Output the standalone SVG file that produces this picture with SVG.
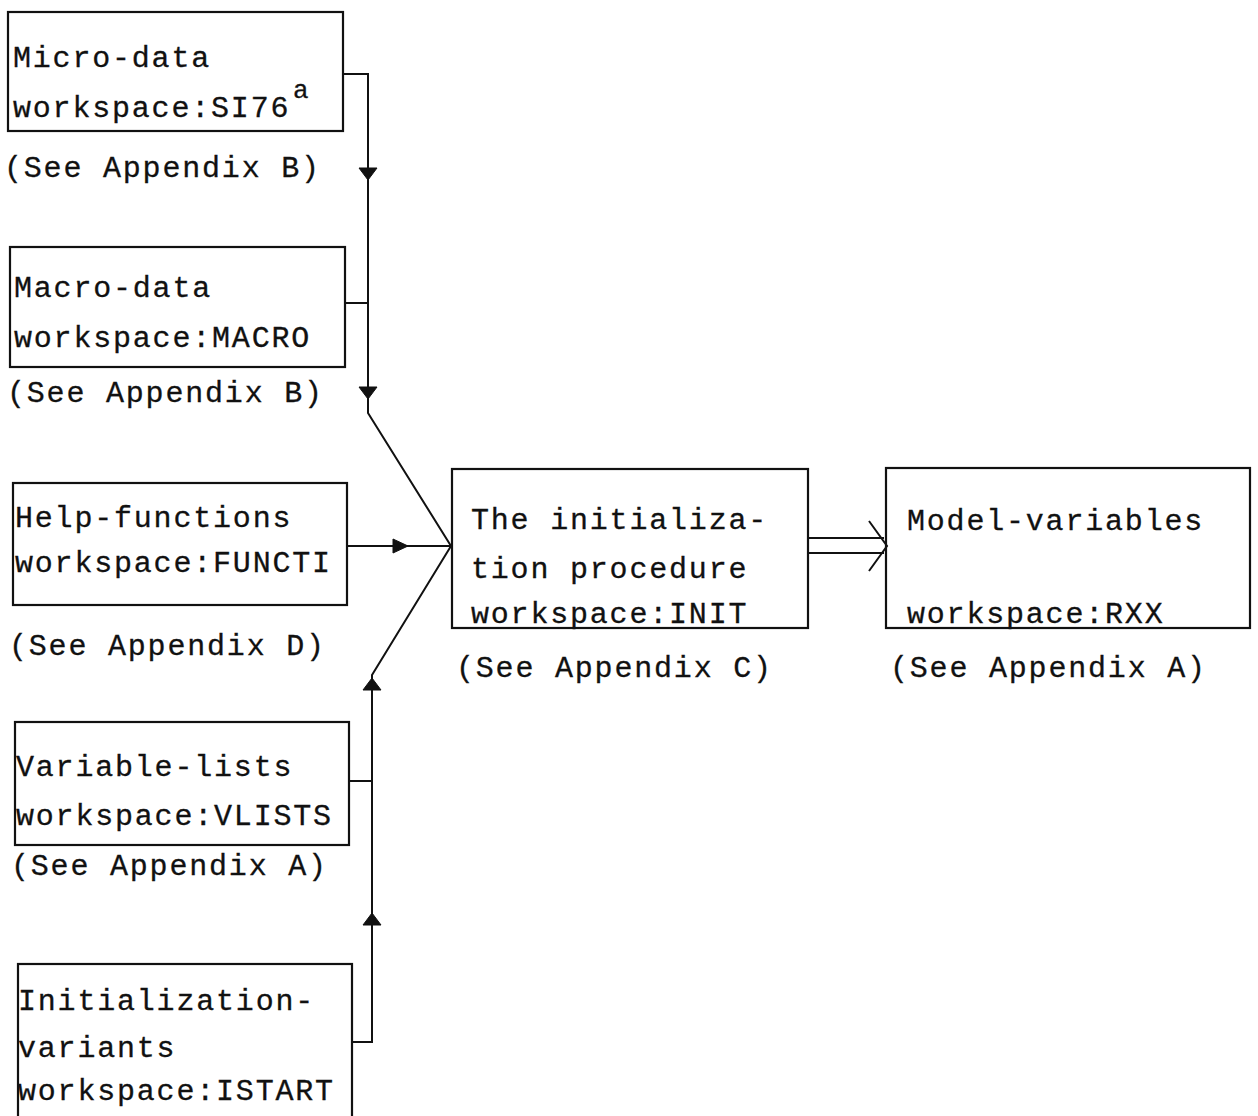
<svg xmlns="http://www.w3.org/2000/svg" xmlns:xlink="http://www.w3.org/1999/xlink" width="1258" height="1116" viewBox="0 0 1258 1116">
<style>
  .box { fill: none; stroke: #111; stroke-width: 2.2; }
  .t { font-family: "Liberation Mono", "Courier New", monospace; font-size: 30px; letter-spacing: 1.8px; fill: #111; stroke: #111; stroke-width: 0.3; }
  .sup { font-family: "Liberation Mono", "Courier New", monospace; font-size: 26px; fill: #111; stroke: #111; stroke-width: 0.3; }
  .ln { fill: none; stroke: #111; stroke-width: 2; stroke-linejoin: miter; }
  .ah { fill: #111; stroke: #111; stroke-width: 1; }
</style>
<defs>
  <path id="tdown" d="M-9,-12 L9,-12 L0,0 Z"/>
  <path id="tup" d="M-9,12 L9,12 L0,0 Z"/>
  <path id="tright" d="M-15,-7 L0,0 L-15,7 Z"/>
</defs>
<rect width="1258" height="1116" fill="#fff"/>

<g id="micro">
  <rect class="box" x="8" y="12" width="335" height="119"/>
  <text class="t" x="13" y="67">Micro-data</text>
  <text class="t" x="13" y="117">workspace:SI76</text>
  <text class="sup" x="293" y="98">a</text>
  <text class="t" x="4" y="177">(See Appendix B)</text>
</g>

<g id="macro">
  <rect class="box" x="10" y="247" width="335" height="120"/>
  <text class="t" x="14" y="297">Macro-data</text>
  <text class="t" x="14" y="347">workspace:MACRO</text>
  <text class="t" x="7" y="402">(See Appendix B)</text>
</g>

<g id="help">
  <rect class="box" x="13" y="483" width="334" height="122"/>
  <text class="t" x="15" y="527">Help-functions</text>
  <text class="t" x="15" y="572">workspace:FUNCTI</text>
  <text class="t" x="9" y="655">(See Appendix D)</text>
</g>

<g id="init">
  <rect class="box" x="452" y="469" width="356" height="159"/>
  <text class="t" x="471" y="529">The initializa-</text>
  <text class="t" x="471" y="578">tion procedure</text>
  <text class="t" x="471" y="623">workspace:INIT</text>
  <text class="t" x="456" y="677">(See Appendix C)</text>
</g>

<g id="model">
  <rect class="box" x="886" y="468" width="364" height="160"/>
  <text class="t" x="907" y="530">Model-variables</text>
  <text class="t" x="907" y="623">workspace:RXX</text>
  <text class="t" x="890" y="677">(See Appendix A)</text>
</g>

<g id="vlists">
  <rect class="box" x="15" y="722" width="334" height="123"/>
  <text class="t" x="16" y="776">Variable-lists</text>
  <text class="t" x="16" y="825">workspace:VLISTS</text>
  <text class="t" x="11" y="875">(See Appendix A)</text>
</g>

<g id="istart">
  <rect class="box" x="18" y="964" width="334" height="170"/>
  <text class="t" x="18" y="1010">Initialization-</text>
  <text class="t" x="18" y="1057">variants</text>
  <text class="t" x="18" y="1100">workspace:ISTART</text>
</g>

<g id="connectors">
  <polyline class="ln" points="343,74 368,74 368,413 451,546"/>
  <line class="ln" x1="345" y1="303" x2="368" y2="303"/>
  <line class="ln" x1="347" y1="546" x2="451" y2="546"/>
  <polyline class="ln" points="451,546 372,675 372,1042 352,1042"/>
  <line class="ln" x1="349" y1="781" x2="372" y2="781"/>
  <use href="#tdown" class="ah" x="368" y="180"/>
  <use href="#tdown" class="ah" x="368" y="399"/>
  <use href="#tright" class="ah" x="408" y="546"/>
  <use href="#tup" class="ah" x="372" y="678"/>
  <use href="#tup" class="ah" x="372" y="913"/>
  <line class="ln" x1="808" y1="538" x2="884" y2="538"/>
  <line class="ln" x1="808" y1="553" x2="884" y2="553"/>
  <polyline class="ln" points="869,521 887,546 869,571"/>
</g>
</svg>
